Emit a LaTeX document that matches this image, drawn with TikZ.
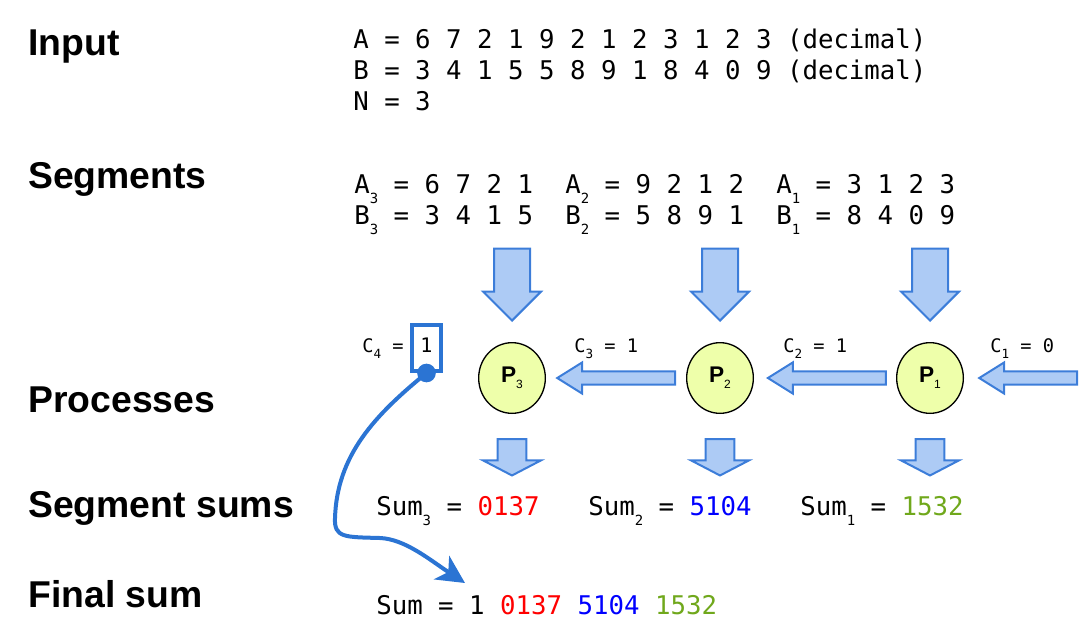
\documentclass[tikz,border=0pt]{standalone}
\usepackage{fontspec}
\setmainfont{Liberation Sans}
\setmonofont{DejaVu Sans Mono}
\usetikzlibrary{shapes.geometric,shapes.arrows,arrows.meta,positioning}

\definecolor{arrowfill}{HTML}{ADCBF5}
\definecolor{arrowline}{HTML}{3C7DD9}
\definecolor{carryblue}{HTML}{2B74D3}
\definecolor{procfill}{HTML}{EEFFAA}
\definecolor{sumgreen}{HTML}{70A81C}

\newcommand{\lowsub}[1]{\raisebox{-7.5pt}{\fontsize{10.5}{10.5}\selectfont #1}}
\newcommand{\carrysub}[1]{\raisebox{-5pt}{\fontsize{9.5}{9.5}\selectfont #1}}
\newcommand{\procsub}[1]{\raisebox{-4.5pt}{\fontsize{9}{9}\selectfont\mdseries #1}}

\tikzset{
  heading/.style={anchor=base west, inner sep=0pt, font=\fontsize{28}{32}\selectfont\bfseries},
  mono/.style={anchor=base west, inner sep=0pt, font=\ttfamily\fontsize{19.3}{22}\selectfont},
  carrylabel/.style={anchor=base west, inner sep=0pt, font=\ttfamily\fontsize{14}{16}\selectfont},
  process/.style={ellipse, draw=black, line width=1pt, fill=procfill, minimum width=50pt,
    minimum height=53pt, inner sep=0pt, font=\fontsize{17}{17}\selectfont\bfseries},
  blockarrow/.style={single arrow, draw=arrowline, fill=arrowfill, line width=1.5pt},
  segarrow/.style={blockarrow, shape border rotate=270, inner sep=12.75pt,
    single arrow head extend=8.25pt, minimum height=54pt, anchor=tip},
  sumarrow/.style={blockarrow, shape border rotate=270, inner sep=10.1pt,
    single arrow head extend=10.9pt, single arrow tip angle=125, minimum height=22.5pt, anchor=tail},
  carryarrow/.style={blockarrow, shape border rotate=180, inner sep=4.2pt,
    single arrow head extend=6.75pt, single arrow tip angle=64, minimum height=88.5pt, anchor=tip},
  carrybox/.style={draw=carryblue, line width=3pt, anchor=base, inner sep=0pt, text height=20.25pt,
    text depth=14.25pt, minimum width=21.75pt, font=\ttfamily\fontsize{15}{16}\selectfont},
  dot/.style={circle, fill=carryblue, inner sep=0pt, minimum size=14pt},
}

\begin{document}
\begin{tikzpicture}[x=0.75pt, y=-0.75pt]
  \useasboundingbox (0,0) rectangle (1085,632);

  % Row headings
  \node[heading] (hinput) at (28,55) {Input};
  \node[heading] (hsegments) at (28,188) {Segments};
  \node[heading] (hprocesses) at (28,412) {Processes};
  \node[heading] (hsegsums) at (28,517) {Segment sums};
  \node[heading] (hfinal) at (28,607) {Final sum};

  % Input numbers
  \node[mono] (inA) at (353,48) {A = 6 7 2 1 9 2 1 2 3 1 2 3 (decimal)};
  \node[mono] (inB) at (353,79) {B = 3 4 1 5 5 8 9 1 8 4 0 9 (decimal)};
  \node[mono] (inN) at (353,110) {N = 3};

  % Segments
  \node[mono] (segA3) at (354,193) {A\lowsub{3} = 6 7 2 1};
  \node[mono] (segB3) at (354,224) {B\lowsub{3} = 3 4 1 5};
  \node[mono] (segA2) at (565,193) {A\lowsub{2} = 9 2 1 2};
  \node[mono] (segB2) at (565,224) {B\lowsub{2} = 5 8 9 1};
  \node[mono] (segA1) at (776,193) {A\lowsub{1} = 3 1 2 3};
  \node[mono] (segB1) at (776,224) {B\lowsub{1} = 8 4 0 9};

  % Processes
  \node[process] (P3) at (512,378) {P\procsub{3}};
  \node[process] (P2) at (720,378) {P\procsub{2}};
  \node[process] (P1) at (930,378) {P\procsub{1}};

  % Arrows into and out of each process
  \foreach \p in {P3,P2,P1} {
    \node[segarrow] (in\p) at ([yshift=15pt]\p.north) {};
    \node[sumarrow] (out\p) at ([yshift=-18pt]\p.south) {};
  }

  % Carry arrows
  \node[carryarrow] (carry3) at ([xshift=7pt]P3.east) {};
  \node[carryarrow] (carry2) at ([xshift=9pt]P2.east) {};
  \node[carryarrow, minimum height=73.5pt] (carry1) at ([xshift=10pt]P1.east) {};

  % Carry labels
  \node[carrylabel] (lc3) at (574,352) {C\carrysub{3} = 1};
  \node[carrylabel] (lc2) at (783,352) {C\carrysub{2} = 1};
  \node[carrylabel] (lc1) at (990,352) {C\carrysub{1} = 0};
  \node[carrylabel] (lc4) at (362,352) {C\carrysub{4} =};
  \node[carrybox] (c4) at (426.5,352) {1};
  \node[dot] (c4dot) at (c4.south) {};

  % Segment sums
  \node[mono] (sum3) at (376,515) {Sum\lowsub{3} = \textcolor{red}{0137}};
  \node[mono] (sum2) at (588,515) {Sum\lowsub{2} = \textcolor{blue}{5104}};
  \node[mono] (sum1) at (800,515) {Sum\lowsub{1} = \textcolor{sumgreen}{1532}};

  % Final sum
  \node[mono] (final) at (376,614) {Sum = 1 \textcolor{red}{0137} \textcolor{blue}{5104} \textcolor{sumgreen}{1532}};

  % Carry out goes to the front of the final sum
  \coordinate (finaltip) at (465,583);
  \draw[carryblue, line width=3pt, -{Stealth[length=21pt,width=21pt,inset=6pt]}]
    (c4dot.center) .. controls (375,415) and (337,455) .. (335,518)
    .. controls (334,538) and (345,537) .. (380,538)
    .. controls (405,539) and (430,560) .. (finaltip);
\end{tikzpicture}
\end{document}
